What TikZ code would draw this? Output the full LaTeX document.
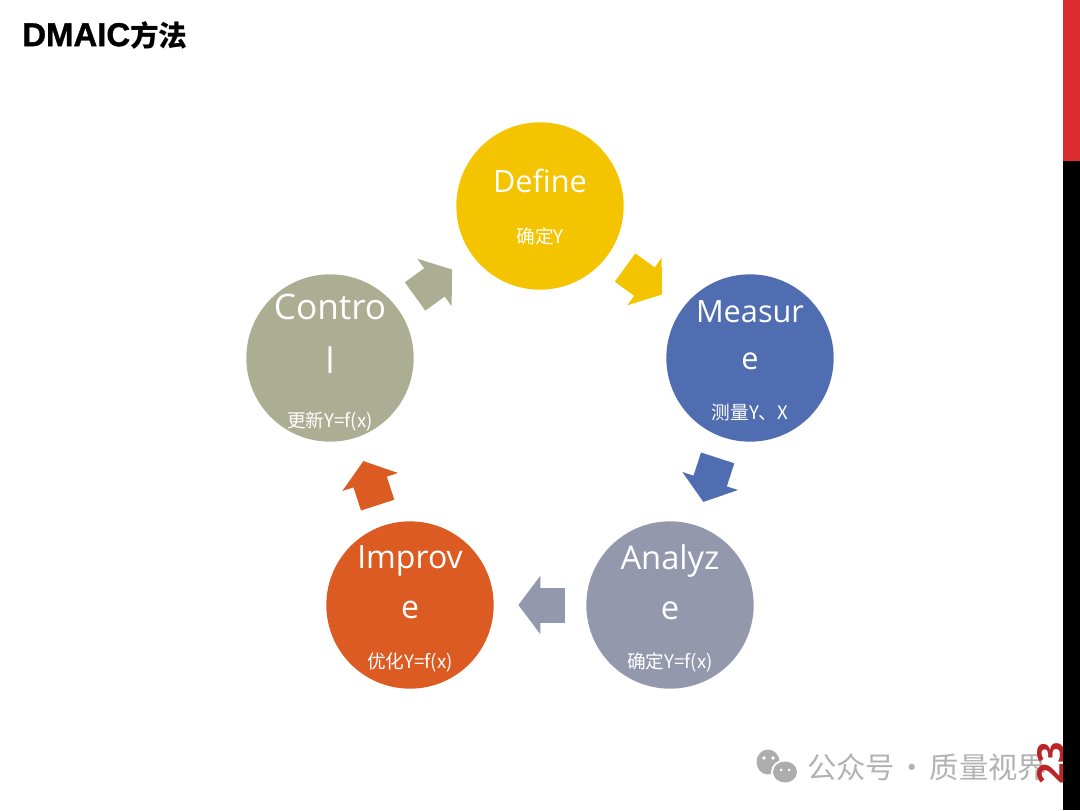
\documentclass[tikz,border=0pt]{standalone}
\usepackage{fontspec}
\usetikzlibrary{arrows.meta,positioning}
\setmainfont{Open Sans}
\newfontfamily\cjk{Noto Sans CJK SC}
\newfontfamily\headfont[FakeBold=1.2]{Liberation Sans}
\definecolor{gold}{HTML}{F5C400}
\definecolor{steel}{HTML}{4F6DB0}
\definecolor{slate}{HTML}{9498AD}
\definecolor{rust}{HTML}{DC5B22}
\definecolor{olive}{HTML}{ACAE93}
\definecolor{barred}{HTML}{DD2C2F}
\tikzset{
  phase/.style={circle,fill=#1,draw=none,minimum size=125.5pt,inner sep=0pt,outer sep=0pt},
  titletext/.style={text=white,align=center,inner sep=0pt,font=\fontsize{#1}{#1}\selectfont},
  subtext/.style={text=white,inner sep=0pt,font=\cjk\fontsize{14pt}{14pt}\selectfont},
  flow/.style={line width=26.25pt,shorten <=16pt,shorten >=18.5pt,-{Triangle[width=43pt,length=16.5pt]}}
}
\begin{document}
\begin{tikzpicture}[x=.75pt,y=-.75pt,node distance=50pt,on grid]
   \useasboundingbox (0,0) rectangle (1080,810);
   \node[phase=gold] (define) at (540,206) {};
   \node[phase=steel] (measure) [below right=114pt and 157.5pt of define] {};
   \node[phase=slate] (analyze) [below left=185.25pt and 60pt of measure] {};
   \node[phase=rust] (improve) [left=195pt of analyze] {};
   \node[phase=olive] (control) [above left=185.25pt and 60pt of improve] {};

   \node[titletext=23pt] (define_t) [above=18.75pt of define] {Define};
   \node[subtext] (define_s) [below=23pt of define] {确定Y};
   \node[titletext=23pt] (measure_t) [above=17pt of measure] {Measur\\[12pt]e};
   \node[subtext] (measure_s) [below=40.5pt of measure] {测量Y、X};
   \node[titletext=24.5pt] (analyze_t) [above=17.4pt of analyze] {Analyz\\[13pt]e};
   \node[subtext] (analyze_s) [below=43pt of analyze] {确定Y=f(x)};
   \node[titletext=24pt] (improve_t) [above=17.4pt of improve] {Improv\\[13.5pt]e};
   \node[subtext] (improve_s) [below=43pt of improve] {优化Y=f(x)};
   \node[titletext=26.4pt] (control_t) [above=18.1pt of control] {Contro\\[14pt]l};
   \node[subtext] (control_s) [below=47.5pt of control] {更新Y=f(x)};

   \path[flow]
    (define) edge[draw=gold] (measure)
    (measure) edge[draw=steel] (analyze)
    (analyze) edge[draw=slate] (improve)
    (improve) edge[draw=rust] (control)
    (control) edge[draw=olive] (define);

   \node[anchor=west,inner sep=0pt] (heading) at (22,35) {{\headfont\bfseries\fontsize{24.7pt}{24.7pt}\selectfont DMAIC}{\cjk\bfseries\fontsize{21.5pt}{21.5pt}\selectfont 方法}};

   \fill[black!32] (768,762) ellipse (11.5 and 12.5);
   \fill[white] (785,772) ellipse (14 and 12.5);
   \fill[black!32] (785,772) ellipse (12 and 10.5);
   \fill[white] (764,758) circle (1.8) (773,758) circle (1.8) (781,770) circle (1.5) (789,770) circle (1.5);
   \node[anchor=west,inner sep=0pt,text=black!30,font=\cjk\fontsize{22pt}{22pt}\selectfont] (mark) at (807,767) {公众号\hspace{-3pt} · \hspace{-3pt}质量视界};
   \node[rotate=90,inner sep=0pt,text=barred!85!black,font=\bfseries\fontsize{28pt}{28pt}\selectfont] (pageno) at (1051,763) {23};

   \fill[black] (1063,0) rectangle (1080,810);
   \fill[barred] (1063,0) rectangle (1080,161);
\end{tikzpicture}
\end{document}
